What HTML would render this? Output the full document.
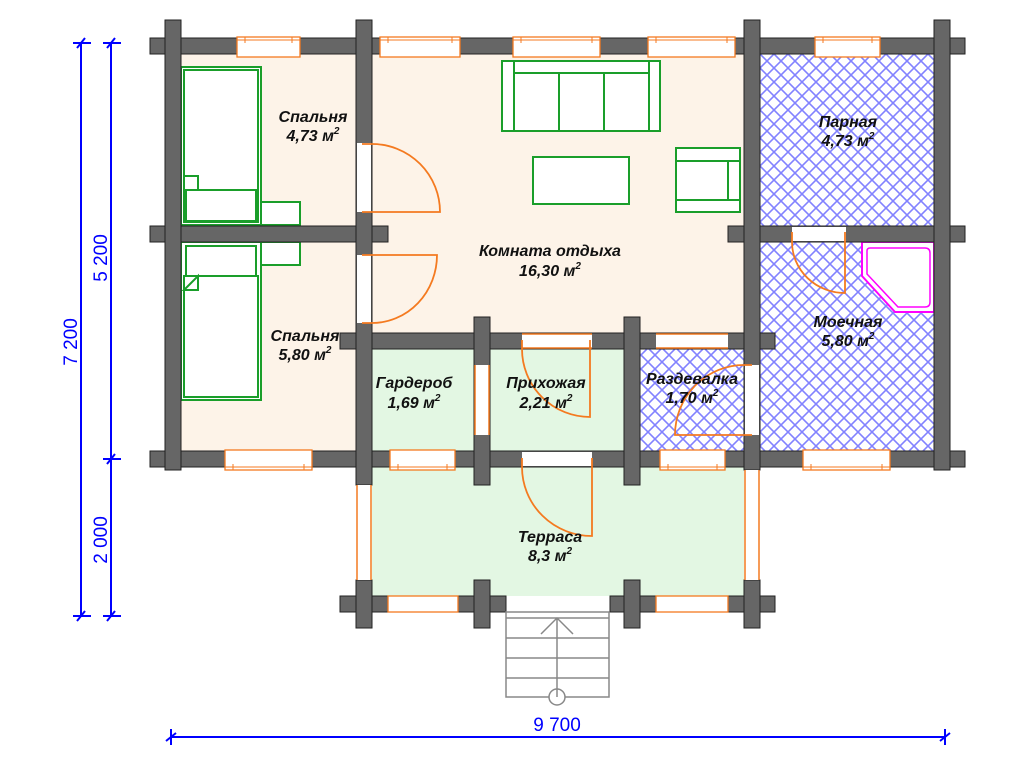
<!DOCTYPE html>
<html><head><meta charset="utf-8"><style>html,body{margin:0;padding:0;background:#fff}svg{display:block}</style></head>
<body>
<svg width="1024" height="768" viewBox="0 0 1024 768" xmlns="http://www.w3.org/2000/svg">
<defs>
<pattern id="h" width="14" height="14" patternUnits="userSpaceOnUse" x="760" y="54">
<rect width="14" height="14" fill="#fff"/>
<path d="M0 0L14 14M14 0L0 14M-1 13L1 15M13 -1L15 1M-1 1L1 -1M13 15L15 13" stroke="#8282ff" stroke-width="1.6"/>
</pattern>
</defs>
<rect width="1024" height="768" fill="#fff"/>
<!-- room fills -->
<rect x="181" y="54" width="175" height="397" fill="#fdf3e8"/>
<rect x="372" y="54" width="372" height="279" fill="#fdf3e8"/>
<rect x="372" y="349" width="252" height="102" fill="#e3f7e3"/>
<rect x="372" y="467" width="372" height="129" fill="#e3f7e3"/>
<rect x="760" y="54" width="174" height="172" fill="url(#h)"/>
<rect x="760" y="242" width="174" height="209" fill="url(#h)"/>
<rect x="640" y="349" width="104" height="102" fill="url(#h)"/>

<!-- furniture -->
<g fill="#fff" stroke="#1a9e2a" stroke-width="2">
<rect x="181" y="67" width="80" height="158"/>
<rect x="184" y="70" width="74" height="152"/>
<rect x="186" y="190" width="70" height="31"/>
<path d="M184 176L198 176L198 190L184 190Z"/>
<rect x="261" y="202" width="39" height="23"/>
<rect x="181" y="242" width="80" height="158"/>
<rect x="184" y="276" width="74" height="121"/>
<rect x="186" y="246" width="70" height="30"/>
<path d="M184 290L198 276L198 290Z"/>
<rect x="261" y="242" width="39" height="23"/>
<rect x="502" y="61" width="158" height="70"/>
<path d="M514 61V131M649 61V131M514 73H649M559 73V131M604 73V131" fill="none"/>
<rect x="533" y="157" width="96" height="47"/>
<rect x="676" y="148" width="64" height="64"/>
<path d="M676 161H740M676 200H740M728 161V200" fill="none"/>
</g>

<!-- shower -->
<path d="M862 242H934V312H895L862 276Z" fill="#fff" stroke="#ff00ff" stroke-width="2"/>
<path d="M870 248H925Q930 248 930 253V302Q930 307 925 307H898L867 274V251Q867 248 870 248Z" fill="none" stroke="#ff00ff" stroke-width="1.5"/>

<!-- walls -->
<g fill="#666" stroke="#222" stroke-width="1">
<rect x="150" y="38" width="815" height="16"/>
<rect x="150" y="226" width="238" height="16"/>
<rect x="728" y="226" width="237" height="16"/>
<rect x="150" y="451" width="815" height="16"/>
<rect x="340" y="333" width="435" height="16"/>
<rect x="165" y="20" width="16" height="450"/>
<rect x="356" y="20" width="16" height="465"/>
<rect x="744" y="20" width="16" height="450"/>
<rect x="934" y="20" width="16" height="450"/>
<rect x="474" y="317" width="16" height="168"/>
<rect x="624" y="317" width="16" height="168"/>
<rect x="340" y="596" width="48" height="16"/><rect x="356" y="580" width="16" height="48"/>
<rect x="458" y="596" width="48" height="16"/><rect x="474" y="580" width="16" height="48"/>
<rect x="610" y="596" width="46" height="16"/><rect x="624" y="580" width="16" height="48"/>
<rect x="728" y="596" width="47" height="16"/><rect x="744" y="580" width="16" height="48"/>
</g>

<!-- openings (white) -->
<g fill="#fff" stroke="none">
<rect x="357" y="143" width="14" height="69"/>
<rect x="357" y="255" width="14" height="68"/>
<rect x="522" y="334" width="70" height="14"/>
<rect x="656" y="334" width="72" height="14"/>
<rect x="475" y="365" width="14" height="70"/>
<rect x="745" y="365" width="14" height="70"/>
<rect x="792" y="227" width="54" height="14"/>
<rect x="522" y="452" width="70" height="14"/>
<rect x="357" y="485" width="14" height="95"/>
<rect x="745" y="470" width="14" height="110"/>
</g>
<g stroke="#f47a20" stroke-width="1.5" fill="none">
<path d="M522 334H592M522 348H592"/>
<path d="M656 334H728M656 348H728"/>
<path d="M475 365V435M489 365V435"/>
<path d="M357 485V580M371 485V580M745 470V580M759 470V580"/>
</g>

<!-- windows -->
<g stroke="#f47a20" stroke-width="1.3" fill="#fff">
<rect x="237" y="37" width="63" height="20"/>
<rect x="380" y="37" width="80" height="20"/>
<rect x="513" y="37" width="87" height="20"/>
<rect x="648" y="37" width="87" height="20"/>
<rect x="815" y="37" width="65" height="20"/>
<rect x="225" y="450" width="87" height="20"/>
<rect x="390" y="450" width="65" height="20"/>
<rect x="660" y="450" width="65" height="20"/>
<rect x="803" y="450" width="87" height="20"/>
<rect x="388" y="596" width="70" height="16"/>
<rect x="656" y="596" width="72" height="16"/>
</g>
<g stroke="#f47a20" stroke-width="1" fill="none">
<path d="M237 40H300M245 37V43M292 37V43"/>
<path d="M380 40H460M388 37V43M452 37V43"/>
<path d="M513 40H600M521 37V43M592 37V43"/>
<path d="M648 40H735M656 37V43M727 37V43"/>
<path d="M815 40H880M823 37V43M872 37V43"/>
<path d="M225 467H312M233 464V470M304 464V470"/>
<path d="M390 467H455M398 464V470M447 464V470"/>
<path d="M660 467H725M668 464V470M717 464V470"/>
<path d="M803 467H890M811 464V470M882 464V470"/>
</g>

<!-- doors -->
<g stroke="#f47a20" stroke-width="1.8" fill="none">
<path d="M362 144H372A68 68 0 0 1 440 212H362"/>
<path d="M362 255H437A65 68 0 0 1 372 323H362"/>
<path d="M522 340V349A68 68 0 0 0 590 417V340"/>
<path d="M522 458V467A70 69 0 0 0 592 536V458"/>
<path d="M752 365H744A69 70 0 0 0 675 435H752"/>
<path d="M792 232V242A53 51 0 0 0 845 293V232"/>
</g>

<!-- stairs -->
<g stroke="#888" stroke-width="1.5" fill="none">
<rect x="506" y="612" width="103" height="85" fill="#fff"/>
<path d="M506 618H609M506 638H609M506 658H609M506 678H609M557 618V697M541 634L557 618L573 634"/>
<circle cx="557" cy="697" r="8" fill="#fff"/>
<path d="M557 689V697"/>
</g>

<!-- labels -->
<g font-family="'Liberation Sans', sans-serif" font-size="16" font-weight="bold" font-style="italic" text-anchor="middle" fill="#111">
<text x="313" y="122">Спальня</text><text x="313" y="141">4,73 м<tspan font-size="10" dy="-7">2</tspan></text>
<text x="550" y="256">Комната отдыха</text><text x="550" y="276">16,30 м<tspan font-size="10" dy="-7">2</tspan></text>
<text x="848" y="127">Парная</text><text x="848" y="146">4,73 м<tspan font-size="10" dy="-7">2</tspan></text>
<text x="305" y="341">Спальня</text><text x="305" y="360">5,80 м<tspan font-size="10" dy="-7">2</tspan></text>
<text x="848" y="327">Моечная</text><text x="848" y="346">5,80 м<tspan font-size="10" dy="-7">2</tspan></text>
<text x="414" y="388">Гардероб</text><text x="414" y="408">1,69 м<tspan font-size="10" dy="-7">2</tspan></text>
<text x="546" y="388">Прихожая</text><text x="546" y="408">2,21 м<tspan font-size="10" dy="-7">2</tspan></text>
<text x="692" y="384">Раздевалка</text><text x="692" y="403">1,70 м<tspan font-size="10" dy="-7">2</tspan></text>
<text x="550" y="542">Терраса</text><text x="550" y="561">8,3 м<tspan font-size="10" dy="-7">2</tspan></text>
</g>

<!-- dimensions -->
<g stroke="#0000ff" stroke-width="2" fill="none">
<path d="M81 43V616M111 43V616M171 737H945"/>
<path d="M73 43H91M77 48L85 38M103 43H121M107 48L115 38"/>
<path d="M103 459H121M107 464L115 454"/>
<path d="M73 616H91M77 621L85 611M103 616H121M107 621L115 611"/>
<path d="M171 729V745M166 741L176 733M945 729V745M940 741L950 733"/>
</g>
<g font-family="'Liberation Sans', sans-serif" font-size="19" fill="#0000ff" text-anchor="middle">
<text transform="translate(77,342) rotate(-90)">7 200</text>
<text transform="translate(107,258) rotate(-90)">5 200</text>
<text transform="translate(107,540) rotate(-90)">2 000</text>
<text x="557" y="731">9 700</text>
</g>
</svg>
</body></html>
